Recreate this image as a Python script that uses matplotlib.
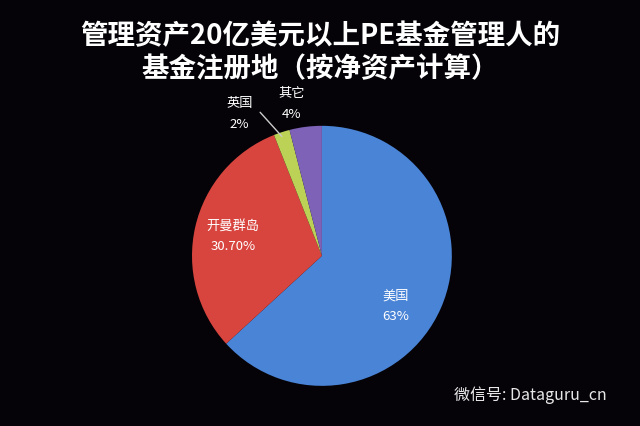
import matplotlib
matplotlib.use("Agg")
import matplotlib.pyplot as plt
import numpy as np

plt.rcParams['font.family'] = ['Noto Sans CJK SC', 'DejaVu Sans']

# data
names = ['美国', '开曼群岛', '英国', '其它']
values = [63, 30.7, 2, 4]
pct_text = ['63%', '30.70%', '2%', '4%']
colors = ['#4a84d6', '#d8453f', '#bcd257', '#7d62b8']

fig = plt.figure(figsize=(6.4, 4.27), dpi=100, facecolor='#050308')
fig.text(0.5, 0.915, '管理资产20亿美元以上PE基金管理人的', color='white',
         fontsize=19.8, fontweight='bold', ha='center', va='center')
fig.text(0.5, 0.838, '基金注册地（按净资产计算）', color='white',
         fontsize=19.8, fontweight='bold', ha='center', va='center')

ax = fig.add_axes([0.3, 0.094, 0.406, 0.609])
ax.set_facecolor('#050308')
wedges, _ = ax.pie(values, colors=colors, startangle=90, counterclock=False,
                   radius=1, wedgeprops=dict(linewidth=0))
ax.set_xlim(-1, 1)
ax.set_ylim(-1, 1)
ax.set_aspect('auto')
ax.axis('off')

# label placement: (radius factor, angle shift in degrees)
place = [(0.68, -10), (0.7, 0), (1.27, 12), (1.2, 4)]
for w, n, p, (r, da) in zip(wedges, names, pct_text, place):
    ang = np.deg2rad((w.theta1 + w.theta2) / 2 + da)
    x, y = r * np.cos(ang), r * np.sin(ang)
    ax.text(x, y, n + '\n' + p, color='white', fontsize=9.5,
            ha='center', va='center', linespacing=1.75)

# leader line for the small UK slice
ang = np.deg2rad((wedges[2].theta1 + wedges[2].theta2) / 2)
ax.annotate('', xy=(0.95 * np.cos(ang), 0.95 * np.sin(ang)), xytext=(-0.49, 1.12),
            arrowprops=dict(arrowstyle='-', color='#cccccc', lw=1))

fig.text(0.71, 0.075, '微信号: Dataguru_cn', color='#e8e8e8', fontsize=11.5,
         ha='left', va='center')

fig.savefig('out.png', dpi=100, facecolor=fig.get_facecolor())
